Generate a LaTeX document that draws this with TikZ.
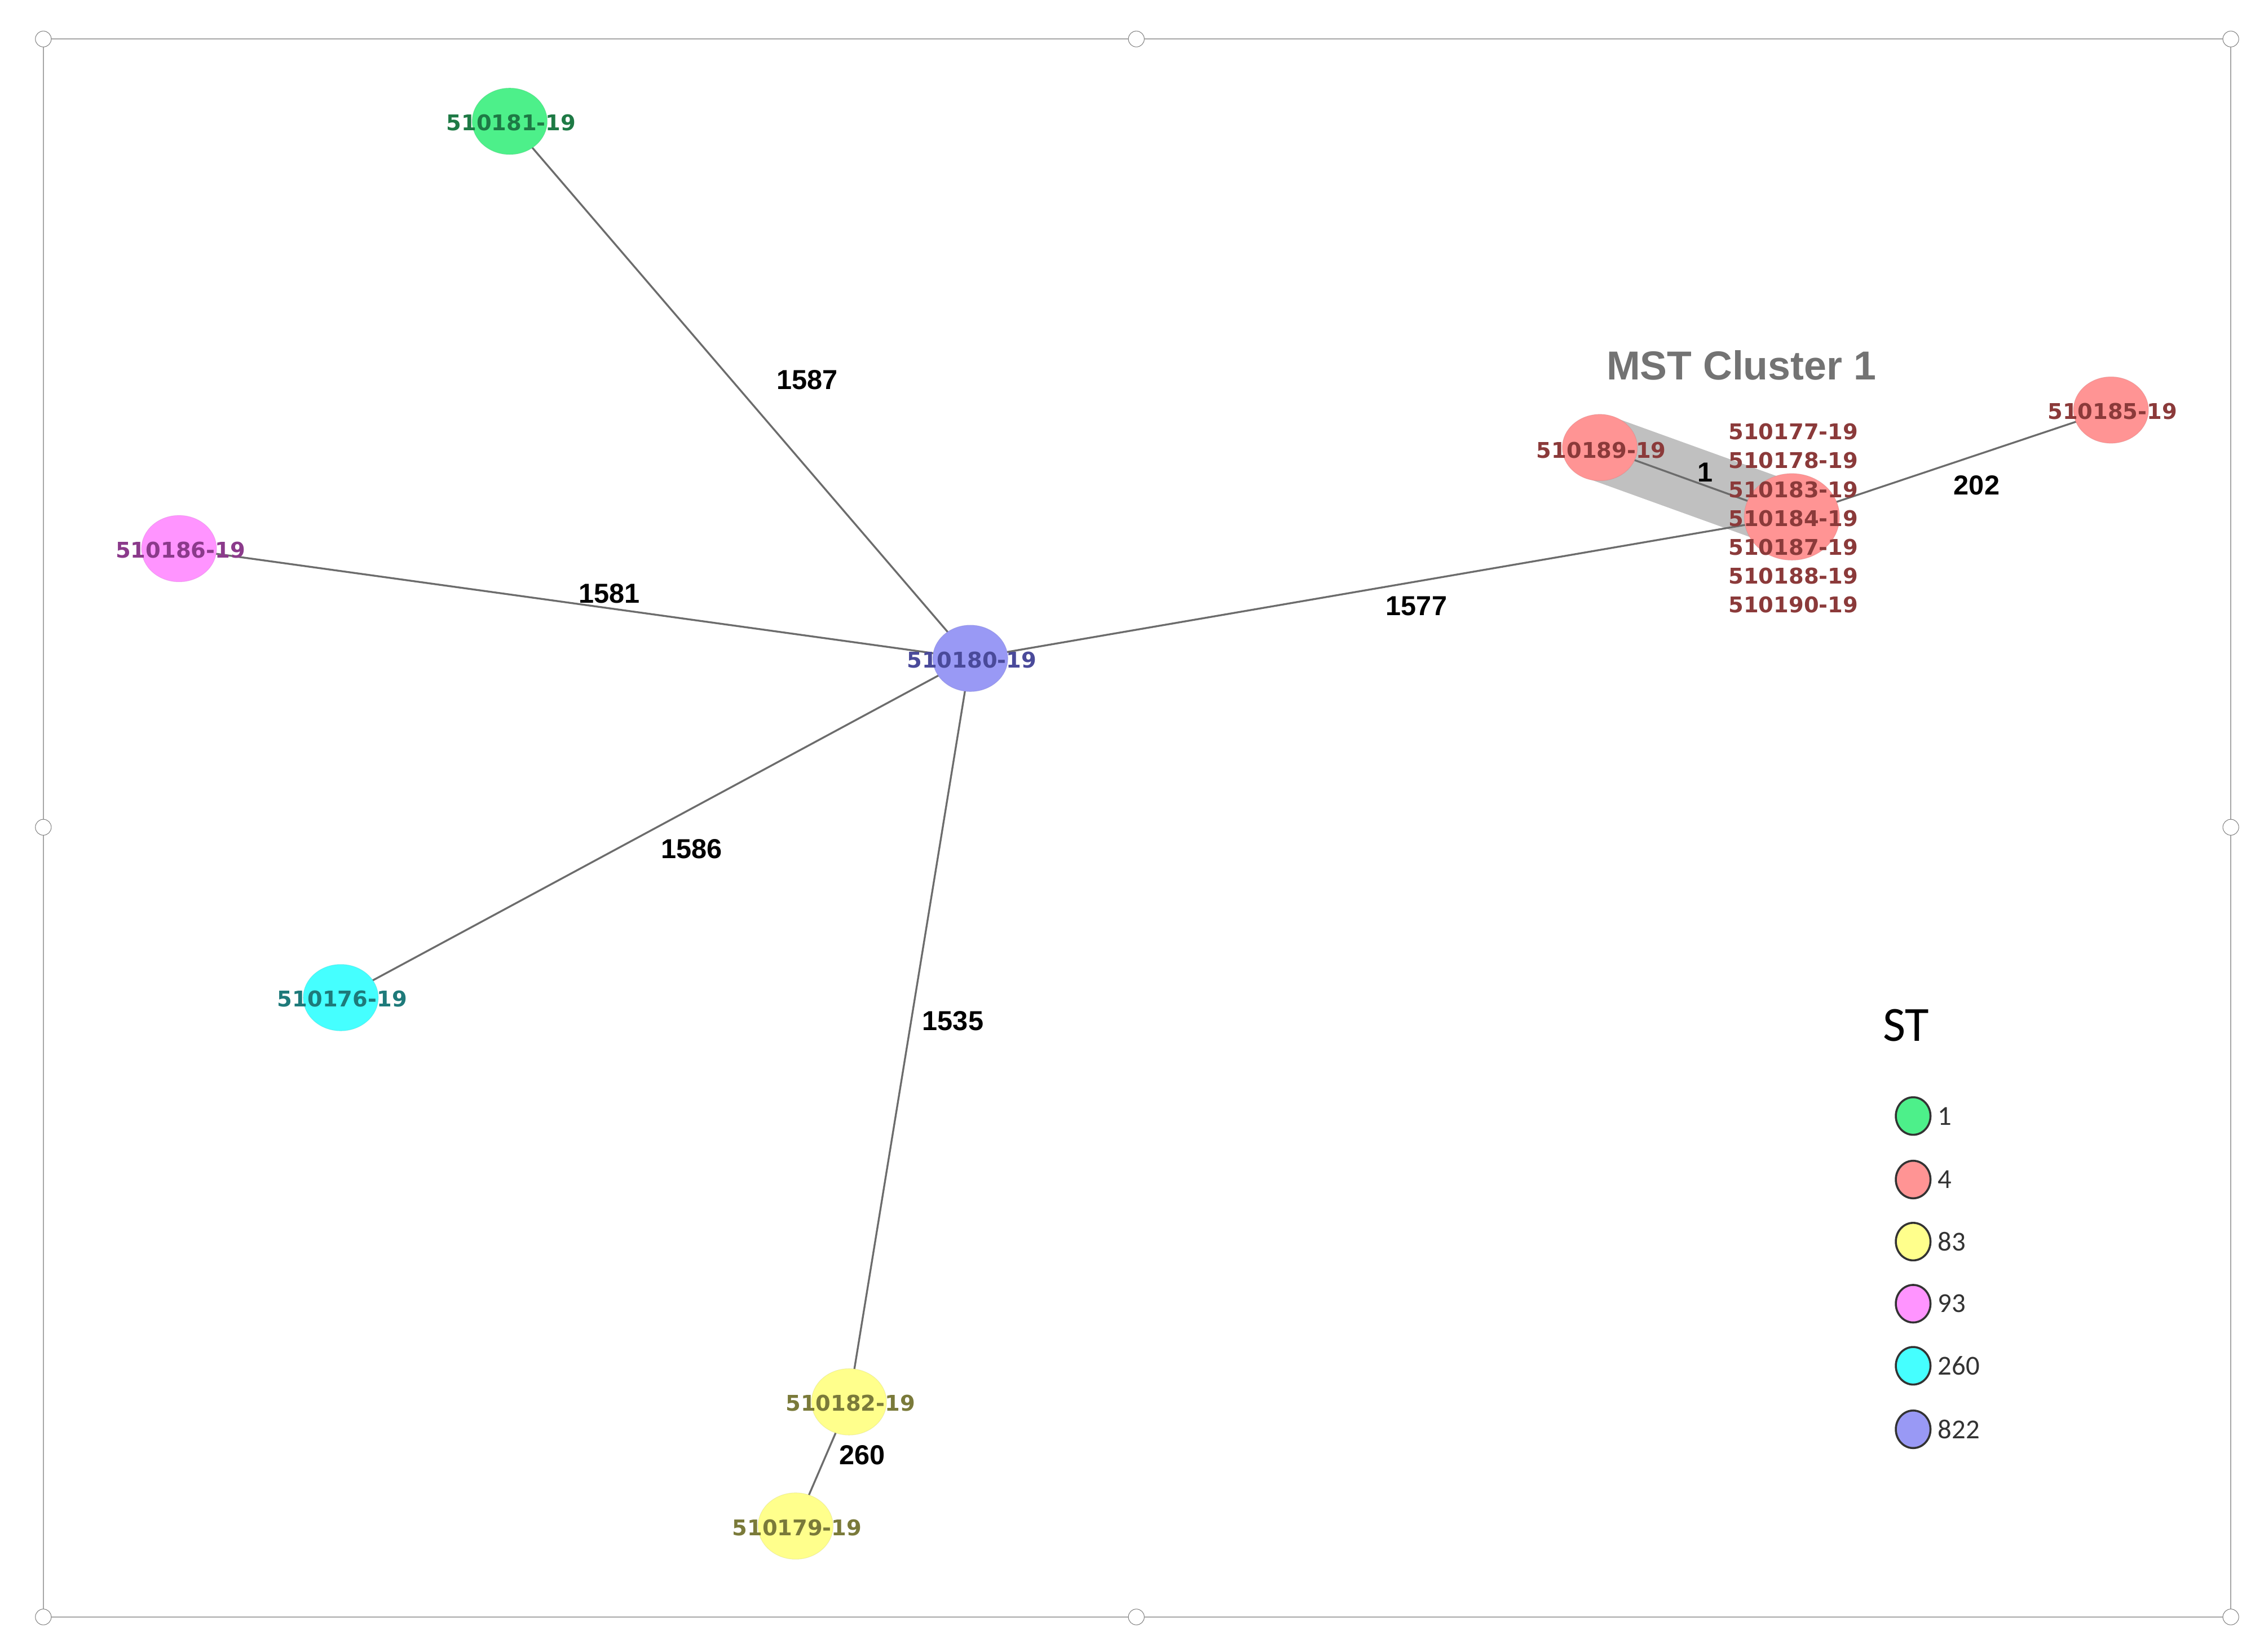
\documentclass[tikz,border=0pt]{standalone}
\usepackage{fontspec}
\setmainfont{DejaVu Sans}
\newfontfamily\lab{DejaVu Sans}
\newfontfamily\arl{Liberation Sans}
\newfontfamily\crl{Carlito}
\usetikzlibrary{shapes.geometric,backgrounds}
\definecolor{cgreen}{HTML}{4DF08A}\definecolor{tgreen}{HTML}{1E7A45}
\definecolor{cred}{HTML}{FF9494}\definecolor{tred}{HTML}{8B3A3A}
\definecolor{cyel}{HTML}{FFFF8C}\definecolor{tyel}{HTML}{7A7A3A}
\definecolor{cpink}{HTML}{FF94FF}\definecolor{tpink}{HTML}{8B3A8B}
\definecolor{ccyan}{HTML}{45FFFF}\definecolor{tcyan}{HTML}{1E7A7A}
\definecolor{cblue}{HTML}{9999F5}\definecolor{tblue}{HTML}{4A4A9A}
\tikzset{
 st/.style={ellipse,draw=#1!80!black,draw opacity=0.3,fill=#1,minimum width=52pt,minimum height=46pt,inner sep=0},
 nl/.style={text=#1,font=\lab\bfseries\fontsize{15}{15}\selectfont,inner sep=0},
 el/.style={font=\arl\bfseries\fontsize{19}{19}\selectfont,inner sep=0},
 ed/.style={draw=gray!85!black,line width=1.3pt},
 lg/.style={ellipse,draw=black!80,line width=1.4pt,fill=#1,minimum width=24pt,minimum height=26pt,inner sep=0},
 ln/.style={anchor=west,font=\crl\fontsize{19}{19}\selectfont,text=black!80,inner sep=0},
 hd/.style={circle,draw=gray,fill=white,minimum size=11pt,inner sep=0}
}
\begin{document}
\begin{tikzpicture}[x=1pt,y=-1pt]
\useasboundingbox (0,0) rectangle (1568,1144);
\draw[gray!70,line width=1pt] (30,27) rectangle (1545,1120);
\foreach \p/\q [count=\i] in {30/27,787/27,1545/27,30/573,1545/573,30/1120,787/1120,1545/1120}
  \node[hd] (h\i) at (\p,\q) {};
% nodes
\node[st=cgreen] (n181) at (353,84) {};
\node[st=cpink] (n186) at (124,380) {};
\node[st=cblue] (n180) at (672,456) {};
\node[st=ccyan] (n176) at (236,691) {};
\node[st=cyel] (n182) at (588,971) {};
\node[st=cyel] (n179) at (551,1057) {};
\node[st=cred] (n189) at (1108,310) {};
\node[st=cred,minimum width=66pt,minimum height=60pt] (ncl) at (1241,358) {};
\node[st=cred] (n185) at (1462,284) {};
\begin{scope}[on background layer]
\draw[gray!55,line width=46pt,line cap=round,opacity=0.9] (n189.center) -- (ncl.center);
\draw[ed] (n180.center) -- (n181.center);
\draw[ed] (n180.center) -- (n186.center);
\draw[ed] (n180.center) -- (n176.center);
\draw[ed] (n180.center) -- (n182.center);
\draw[ed] (n180.center) -- (ncl.center);
\draw[ed] (n182.center) -- (n179.center);
\draw[ed] (n189.center) -- (ncl.center);
\draw[ed] (ncl.center) -- (n185.center);
\end{scope}
% node labels
\node[nl=tgreen] (t181) at (354,85) {510181-19};
\node[nl=tpink] (t186) at (125,381) {510186-19};
\node[nl=tblue] (t180) at (673,457) {510180-19};
\node[nl=tcyan] (t176) at (237,692) {510176-19};
\node[nl=tyel] (t182) at (589,972) {510182-19};
\node[nl=tyel] (t179) at (552,1058) {510179-19};
\node[nl=tred] (t189) at (1109,312) {510189-19};
\node[nl=tred] (t185) at (1463,285) {510185-19};
\node[nl=tred,align=center,font=\lab\bfseries\fontsize{15}{20}\selectfont] (tcl) at (1242,359)
  {510177-19\\510178-19\\510183-19\\510184-19\\510187-19\\510188-19\\510190-19};
\node[font=\arl\bfseries\fontsize{28}{28}\selectfont,text=gray!90!black,inner sep=0] (mst) at (1206,253) {MST Cluster 1};
% edge labels
\node[el] (e1) at (559,263) {1587};
\node[el] (e2) at (422,411) {1581};
\node[el] (e3) at (479,588) {1586};
\node[el] (e4) at (660,707) {1535};
\node[el] (e5) at (981,420) {1577};
\node[el] (e6) at (1369,336) {202};
\node[el] (e7) at (1181,327) {1};
\node[el] (e8) at (597,1008) {260};
% legend
\node[font=\crl\fontsize{34}{34}\selectfont,inner sep=0] (st) at (1320,710) {ST};
\foreach \c/\t/\y [count=\i] in {cgreen/1/773,cred/4/817,cyel/83/860,cpink/93/903,ccyan/260/946,cblue/822/990}{
  \node[lg=\c] (l\i) at (1325,\y) {};
  \node[ln] (lt\i) at (1342,\y) {\t};
}
\end{tikzpicture}
\end{document}
